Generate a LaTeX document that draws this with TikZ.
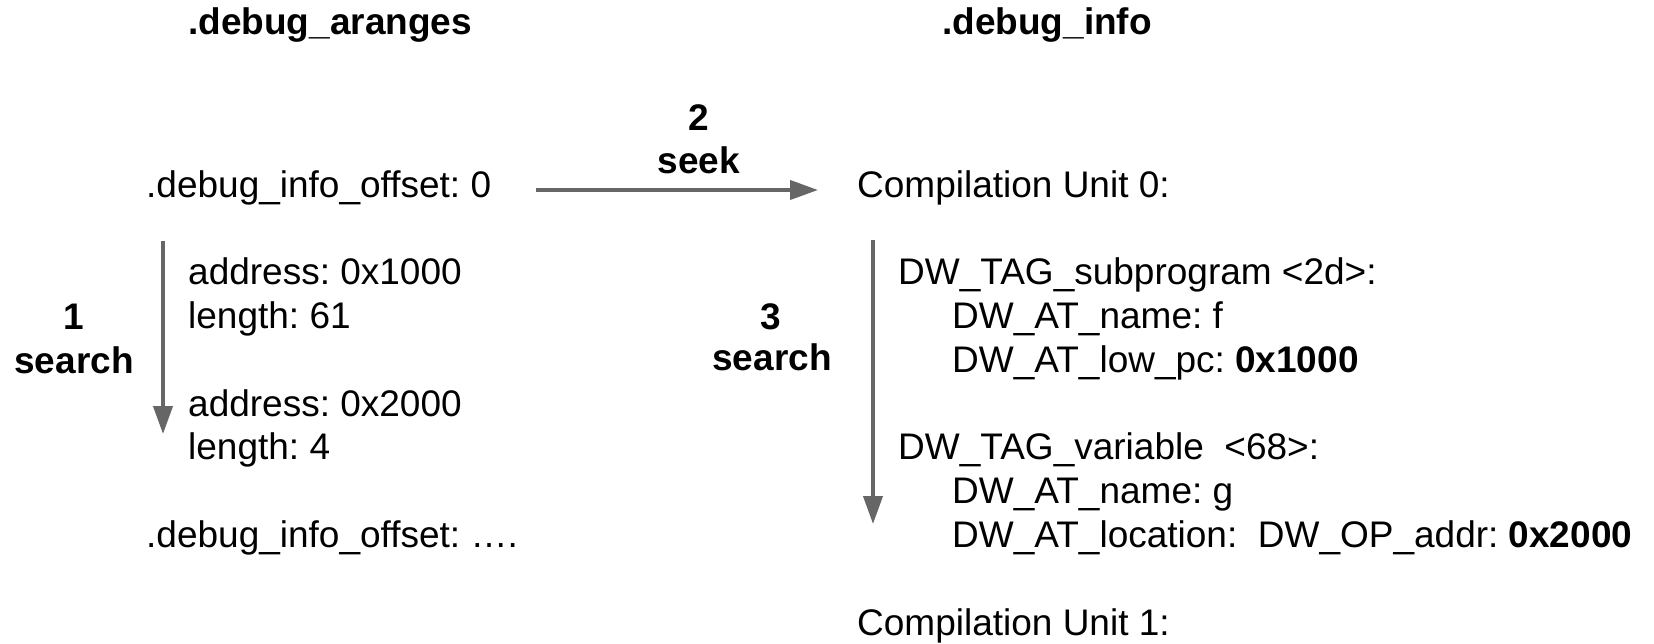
\documentclass[tikz,border=0pt]{standalone}
\usepackage{fontspec}
\setmainfont{Liberation Sans}
\usetikzlibrary{arrows.meta}
\definecolor{arrgray}{HTML}{666666}
\frenchspacing
\begin{document}
\begin{tikzpicture}[x=1pt,y=-1pt,
  txt/.style={anchor=base west, inner sep=0pt, font=\fontsize{37}{44}\selectfont},
  btxt/.style={anchor=base west, inner sep=0pt, font=\fontsize{37}{44}\selectfont\bfseries},
  lbl/.style={anchor=base, inner sep=0pt, font=\fontsize{37}{44}\selectfont\bfseries},
  conn/.style={draw=arrgray, line width=4pt, -{Triangle[length=28pt,width=19pt]}}]
\useasboundingbox (0,0) rectangle (1654,643);
% titles
\node[btxt] (tA) at (188,34) {.debug\_aranges};
\node[btxt] (tI) at (942,34) {.debug\_info};
% left column
\node[txt] (off0) at (146,197) {.debug\_info\_offset: 0};
\node[txt] (addr1) at (188,284) {address: 0x1000};
\node[txt] (len1) at (188,328) {length: 61};
\node[txt] (addr2) at (188,416) {address: 0x2000};
\node[txt] (len2) at (188,459) {length: 4};
\node[txt] (offN) at (146,547) {.debug\_info\_offset: ….};
% right column
\node[txt] (cu0) at (857,197) {Compilation Unit 0:};
\node[txt] (sub) at (898,284) {DW\_TAG\_subprogram <2d>:};
\node[txt] (subn) at (952,328) {DW\_AT\_name: f};
\node[txt] (subpc) at (952,372) {DW\_AT\_low\_pc: \textbf{0x1000}};
\node[txt] (var) at (898,459) {DW\_TAG\_variable\ \ <68>:};
\node[txt] (varn) at (952,503) {DW\_AT\_name: g};
\node[txt] (varl) at (952,547) {DW\_AT\_location:\ \ DW\_OP\_addr: \textbf{0x2000}};
\node[txt] (cu1) at (857,635) {Compilation Unit 1:};
% step labels
\node[lbl] (n1) at (74,329) {1};
\node[lbl] (s1) at (74,373) {search};
\node[lbl] (n2) at (699,130) {2};
\node[lbl] (s2) at (699,173) {seek};
\node[lbl] (n3) at (771,329) {3};
\node[lbl] (s3) at (772,370) {search};
% arrows
\coordinate (l1a) at (163,241);
\coordinate (l1b) at (163,434);
\coordinate (r3a) at (873,240);
\coordinate (r3b) at (873,524);
\draw[conn] ([shift={(45,-7)}]off0.base east) -- ([shift={(-39,-7)}]cu0.base west);
\draw[conn] (l1a) -- (l1b);
\draw[conn] (r3a) -- (r3b);
\end{tikzpicture}
\end{document}
